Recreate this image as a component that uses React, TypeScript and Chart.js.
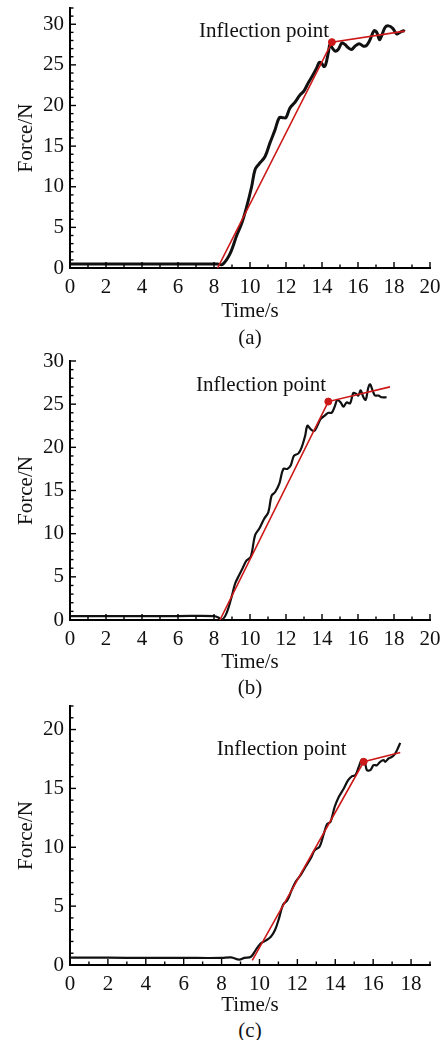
import React, { useEffect, useRef } from "react";
import { Chart, registerables } from "chart.js";

Chart.register(...registerables);

const FONT = '"Liberation Serif", "Times New Roman", Times, serif';
const INK = "#111111";
const RED = "#cc1818";

// ---------- Panel (a) ----------
const timeA = [0, 2, 4, 6, 8, 8.19, 8.48, 8.9, 9.26, 9.54, 9.81, 10.09, 10.28, 10.5, 10.83, 11.11, 11.39, 11.63, 11.85, 12.0, 12.22, 12.5, 12.78, 13.0, 13.24, 13.48, 13.7, 13.85, 13.98, 14.1, 14.2, 14.35, 14.44, 14.57, 14.72, 14.9, 15.1, 15.28, 15.46, 15.65, 15.83, 16.07, 16.3, 16.48, 16.67, 16.89, 17.04, 17.19, 17.3, 17.5, 17.69, 17.93, 18.15, 18.33, 18.52, 18.6];
const forceA = [0.5, 0.5, 0.5, 0.5, 0.5, 0.5, 0.45, 1.8, 4.0, 5.5, 7.5, 10.0, 12.1, 12.8, 13.7, 15.4, 17.0, 18.5, 18.5, 18.5, 19.7, 20.4, 21.3, 21.8, 22.8, 23.7, 24.6, 25.3, 25.2, 24.8, 25.0, 26.5, 27.5, 27.1, 26.7, 26.9, 27.7, 27.5, 27.1, 26.9, 27.3, 27.6, 27.3, 27.4, 28.1, 29.2, 29.0, 28.1, 28.5, 29.6, 29.8, 29.5, 28.8, 29.0, 29.2, 29.1];
const fitTimeA = [8.2, 14.55, 18.6];
const fitForceA = [0, 27.8, 29.15];
const inflectionA = [14.55, 27.8];
const xTicksA = [0, 2, 4, 6, 8, 10, 12, 14, 16, 18, 20];
const yTicksA = [0, 5, 10, 15, 20, 25, 30];

// ---------- Panel (b) ----------
const timeB = [0, 2, 4, 6, 8, 8.24, 8.43, 8.7, 8.98, 9.17, 9.35, 9.59, 9.81, 10.04, 10.28, 10.52, 10.78, 11.02, 11.2, 11.39, 11.63, 11.85, 12.07, 12.26, 12.44, 12.69, 12.87, 13.06, 13.19, 13.37, 13.56, 13.74, 13.93, 14.17, 14.35, 14.54, 14.72, 14.85, 15.04, 15.19, 15.37, 15.56, 15.74, 15.89, 16.02, 16.15, 16.3, 16.43, 16.57, 16.67, 16.81, 16.94, 17.13, 17.31, 17.59];
const forceB = [0.46, 0.46, 0.46, 0.46, 0.46, 0.3, 0.0, 0.8, 2.7, 4.2, 5.0, 6.0, 6.9, 7.3, 9.8, 10.6, 11.7, 12.5, 14.4, 14.8, 15.8, 17.5, 17.5, 17.9, 19.0, 19.3, 20.0, 21.3, 22.5, 22.1, 21.9, 22.5, 23.3, 23.7, 24.0, 24.0, 24.8, 25.5, 25.2, 24.7, 25.2, 25.1, 26.3, 26.2, 26.0, 26.6, 25.8, 25.5, 26.9, 27.3, 26.6, 26.0, 26.0, 25.8, 25.8];
const fitTimeB = [8.33, 14.35, 17.78];
const fitForceB = [0, 25.3, 27.0];
const inflectionB = [14.35, 25.3];
const xTicksB = [0, 2, 4, 6, 8, 10, 12, 14, 16, 18, 20];
const yTicksB = [0, 5, 10, 15, 20, 25, 30];

// ---------- Panel (c) ----------
const timeC = [0, 2, 4, 6, 8, 8.5, 8.93, 9.2, 9.55, 9.8, 10.07, 10.33, 10.6, 10.82, 11.03, 11.24, 11.47, 11.7, 11.91, 12.17, 12.43, 12.7, 12.92, 13.17, 13.4, 13.57, 13.75, 13.97, 14.19, 14.45, 14.68, 14.89, 15.06, 15.24, 15.41, 15.55, 15.67, 15.85, 16.02, 16.2, 16.37, 16.55, 16.64, 16.81, 16.99, 17.16, 17.3, 17.43];
const forceC = [0.62, 0.62, 0.6, 0.6, 0.6, 0.65, 0.45, 0.6, 0.7, 1.27, 1.84, 2.07, 2.4, 2.97, 3.96, 5.1, 5.5, 6.36, 7.07, 7.64, 8.35, 9.05, 9.76, 10.04, 11.17, 11.97, 12.16, 13.44, 14.29, 14.99, 15.7, 16.04, 16.12, 16.83, 17.45, 17.31, 16.55, 16.55, 16.97, 16.97, 17.26, 17.4, 17.26, 17.54, 17.68, 17.96, 18.39, 18.87];
const fitTimeC = [9.62, 15.5, 17.43];
const fitForceC = [0.4, 17.26, 18.05];
const inflectionC = [15.5, 17.26];
const xTicksC = [0, 2, 4, 6, 8, 10, 12, 14, 16, 18];
const yTicksC = [0, 5, 10, 15, 20];

const annotationText = "Inflection point";
const xTitle = "Time/s";
const yTitle = "Force/N";

type PanelCfg = {
  top: number;
  height: number;
  padTop: number;
  xAxisH: number;
  xMax: number;
  yMax: number;
  time: number[];
  force: number[];
  fitTime: number[];
  fitForce: number[];
  inflection: number[];
  xTicks: number[];
  yTicks: number[];
  labelAt: number[];
  lineWidth: number;
};

const axisDecor = {
  id: "axisDecor",
  afterDraw(chart: any, _args: any, opts: any) {
    const { ctx, chartArea, scales } = chart;
    const xs = scales.x;
    const ys = scales.y;
    ctx.save();
    ctx.strokeStyle = "#000";
    ctx.lineWidth = 1.4;
    for (let v = Math.ceil(xs.min); v <= xs.max; v++) {
      const px = xs.getPixelForValue(v);
      const len = v % 2 === 0 ? 6 : 3.5;
      ctx.beginPath();
      ctx.moveTo(px, chartArea.bottom);
      ctx.lineTo(px, chartArea.bottom - len);
      ctx.stroke();
    }
    for (let v = Math.ceil(ys.min); v <= ys.max; v++) {
      const py = ys.getPixelForValue(v);
      const len = v % 5 === 0 ? 6 : 3.5;
      ctx.beginPath();
      ctx.moveTo(chartArea.left, py);
      ctx.lineTo(chartArea.left + len, py);
      ctx.stroke();
    }
    ctx.font = `21px ${FONT}`;
    ctx.fillStyle = INK;
    ctx.textAlign = "left";
    ctx.textBaseline = "alphabetic";
    ctx.fillText(annotationText, xs.getPixelForValue(opts.labelAt[0]), ys.getPixelForValue(opts.labelAt[1]));
    ctx.restore();
  },
};

function Panel({ cfg }: { cfg: PanelCfg }) {
  const ref = useRef<HTMLCanvasElement | null>(null);
  useEffect(() => {
    if (!ref.current) return;
    const font = { family: FONT, size: 21, lineHeight: 1.2 };
    const chart = new Chart(ref.current, {
      type: "line",
      data: {
        datasets: [
          {
            type: "scatter" as any,
            data: [{ x: cfg.inflection[0], y: cfg.inflection[1] }],
            backgroundColor: RED,
            borderColor: RED,
            pointRadius: 3.5,
            showLine: false,
          },
          {
            data: cfg.fitTime.map((t, i) => ({ x: t, y: cfg.fitForce[i] })),
            borderColor: RED,
            borderWidth: 1.6,
            pointRadius: 0,
            tension: 0,
            fill: false,
          },
          {
            data: cfg.time.map((t, i) => ({ x: t, y: cfg.force[i] })),
            borderColor: INK,
            borderWidth: cfg.lineWidth,
            pointRadius: 0,
            tension: 0.35,
            fill: false,
          },
        ] as any,
      },
      options: {
        animation: false,
        responsive: false,
        events: [],
        layout: { padding: { top: cfg.padTop, right: 17, bottom: 0, left: 0 } },
        plugins: {
          legend: { display: false },
          tooltip: { enabled: false },
          axisDecor: { labelAt: cfg.labelAt },
        } as any,
        scales: {
          x: {
            type: "linear",
            position: "bottom",
            min: 0,
            max: cfg.xMax,
            grid: { display: false, drawTicks: false },
            border: { display: true, color: "#000", width: 2 },
            ticks: { font, color: INK, padding: 7, autoSkip: false, maxRotation: 0 },
            afterBuildTicks: (s: any) => {
              s.ticks = cfg.xTicks.map((v) => ({ value: v }));
            },
            afterFit: (s: any) => {
              s.height = cfg.xAxisH;
              s.paddingLeft = 0;
              s.paddingRight = 0;
            },
            title: { display: true, text: xTitle, font, color: INK, padding: { top: 0, bottom: 0 } },
          },
          y: {
            type: "linear",
            min: 0,
            max: cfg.yMax,
            grid: { display: false, drawTicks: false },
            border: { display: true, color: "#000", width: 2 },
            ticks: { font, color: INK, padding: 6, autoSkip: false },
            afterBuildTicks: (s: any) => {
              s.ticks = cfg.yTicks.map((v) => ({ value: v }));
            },
            afterFit: (s: any) => {
              s.width = 70;
              s.paddingTop = 0;
              s.paddingBottom = 0;
            },
            title: { display: true, text: yTitle, font, color: INK, padding: { top: 14, bottom: 0 } },
          },
        },
      } as any,
      plugins: [axisDecor as any],
    });
    return () => chart.destroy();
  }, [cfg]);
  return (
    <canvas
      ref={ref}
      width={447}
      height={cfg.height}
      style={{ position: "absolute", left: 0, top: cfg.top, width: 447, height: cfg.height }}
    />
  );
}

const panels: PanelCfg[] = [
  {
    top: 0, height: 268 + 56, padTop: 8, xAxisH: 56, xMax: 20, yMax: 32,
    time: timeA, force: forceA, fitTime: fitTimeA, fitForce: fitForceA, inflection: inflectionA,
    xTicks: xTicksA, yTicks: yTicksA, labelAt: [7.17, 28.4], lineWidth: 3,
  },
  {
    top: 345, height: 275 + 55, padTop: 16, xAxisH: 55, xMax: 20, yMax: 30,
    time: timeB, force: forceB, fitTime: fitTimeB, fitForce: fitForceB, inflection: inflectionB,
    xTicks: xTicksB, yTicks: yTicksB, labelAt: [7.0, 26.5], lineWidth: 2.2,
  },
  {
    top: 695, height: 270 + 53, padTop: 11, xAxisH: 53, xMax: 19, yMax: 22,
    time: timeC, force: forceC, fitTime: fitTimeC, fitForce: fitForceC, inflection: inflectionC,
    xTicks: xTicksC, yTicks: yTicksC, labelAt: [7.74, 17.8], lineWidth: 2.2,
  },
];

const captions = [
  { text: "(a)", y: 337 },
  { text: "(b)", y: 687 },
  { text: "(c)", y: 1030 },
];

export default function App() {
  return (
    <div style={{ position: "absolute", left: 0, top: 0, width: 447, height: 1040, background: "#fff", overflow: "hidden" }}>
      {panels.map((p, i) => (
        <Panel key={i} cfg={p} />
      ))}
      {captions.map((c, i) => (
        <div
          key={i}
          style={{
            position: "absolute",
            left: 150,
            width: 200,
            top: c.y - 12,
            height: 24,
            lineHeight: "24px",
            textAlign: "center",
            fontFamily: FONT,
            fontSize: 21,
            color: INK,
          }}
        >
          {c.text}
        </div>
      ))}
    </div>
  );
}
